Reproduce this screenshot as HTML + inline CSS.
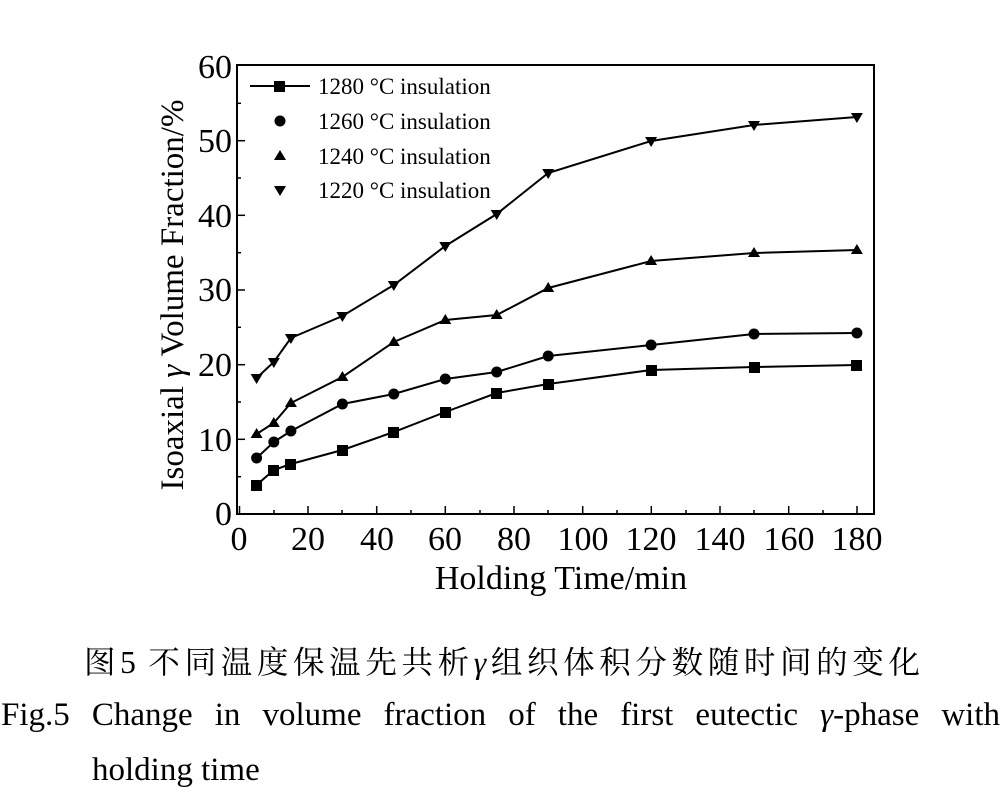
<!DOCTYPE html>
<html><head><meta charset="utf-8"><style>
body{margin:0;background:#fff;width:1002px;height:810px;overflow:hidden;position:relative}
svg{position:absolute;left:0;top:0}
text{font-family:"Liberation Serif","Noto Serif CJK SC",serif;fill:#000}
.cap{position:absolute;font-family:"Liberation Serif","Noto Serif CJK SC",serif;font-size:32px;white-space:nowrap;color:#000}
</style></head><body>
<svg width="1002" height="810" viewBox="0 0 1002 810">
<rect x="237" y="65" width="637" height="449" fill="none" stroke="#000" stroke-width="2"/>
<g stroke="#000" stroke-width="1.5">
<line x1="239.5" y1="514" x2="239.5" y2="506"/><line x1="274" y1="514" x2="274" y2="510"/>
<line x1="308" y1="514" x2="308" y2="506"/><line x1="342" y1="514" x2="342" y2="510"/>
<line x1="376.7" y1="514" x2="376.7" y2="506"/><line x1="411" y1="514" x2="411" y2="510"/>
<line x1="445.3" y1="514" x2="445.3" y2="506"/><line x1="480" y1="514" x2="480" y2="510"/>
<line x1="514" y1="514" x2="514" y2="506"/><line x1="548" y1="514" x2="548" y2="510"/>
<line x1="582.7" y1="514" x2="582.7" y2="506"/><line x1="617" y1="514" x2="617" y2="510"/>
<line x1="651.3" y1="514" x2="651.3" y2="506"/><line x1="686" y1="514" x2="686" y2="510"/>
<line x1="720" y1="514" x2="720" y2="506"/><line x1="754" y1="514" x2="754" y2="510"/>
<line x1="788.7" y1="514" x2="788.7" y2="506"/><line x1="823" y1="514" x2="823" y2="510"/>
<line x1="857" y1="514" x2="857" y2="506"/>
<line x1="237" y1="439.3" x2="245" y2="439.3"/><line x1="237" y1="364.7" x2="245" y2="364.7"/>
<line x1="237" y1="290" x2="245" y2="290"/><line x1="237" y1="215.3" x2="245" y2="215.3"/>
<line x1="237" y1="140.7" x2="245" y2="140.7"/>
<line x1="237" y1="476.7" x2="241" y2="476.7"/><line x1="237" y1="402" x2="241" y2="402"/>
<line x1="237" y1="327.3" x2="241" y2="327.3"/><line x1="237" y1="252.7" x2="241" y2="252.7"/>
<line x1="237" y1="178" x2="241" y2="178"/><line x1="237" y1="103.3" x2="241" y2="103.3"/>
</g>
<g font-size="34" text-anchor="middle">
<text x="239" y="550">0</text><text x="308" y="550">20</text><text x="377" y="550">40</text>
<text x="445" y="550">60</text><text x="514" y="550">80</text><text x="583" y="550">100</text>
<text x="651" y="550">120</text><text x="720" y="550">140</text><text x="789" y="550">160</text>
<text x="857" y="550">180</text>
</g>
<g font-size="34" text-anchor="end">
<text x="232" y="525">0</text><text x="232" y="451">10</text><text x="232" y="376">20</text>
<text x="232" y="301">30</text><text x="232" y="227">40</text><text x="232" y="152">50</text>
<text x="232" y="78">60</text>
</g>
<text x="561" y="589" font-size="34" text-anchor="middle">Holding Time/min</text>
<text transform="translate(183,295) rotate(-90)" font-size="33" text-anchor="middle">Isoaxial <tspan font-style="italic">γ</tspan> Volume Fraction/%</text>
<g fill="none" stroke="#000" stroke-width="2">
<polyline points="256.6,485 273.8,470 290.9,464 342.4,450 393.8,432 445.3,412 496.7,393 548.2,384 651.1,370 754,367 856.9,365"/>
<polyline points="256.6,458 273.8,442 290.9,431 342.4,404 393.8,394 445.3,379 496.7,372 548.2,356 651.1,345 754,334 856.9,333"/>
<polyline points="256.6,434 273.8,423 290.9,403 342.4,377 393.8,342 445.3,320 496.7,315 548.2,288 651.1,261 754,253 856.9,250"/>
<polyline points="256.6,378 273.8,362 290.9,338 342.4,316 393.8,285 445.3,246 496.7,214 548.2,173 651.1,141 754,125 856.9,117"/>
<line x1="250" y1="86" x2="310" y2="86"/>
</g>
<g fill="#000">
<rect x="251" y="480" width="11" height="11"/><rect x="268" y="465" width="11" height="11"/><rect x="285" y="459" width="11" height="11"/>
<rect x="337" y="445" width="11" height="11"/><rect x="388" y="427" width="11" height="11"/><rect x="440" y="407" width="11" height="11"/>
<rect x="491" y="388" width="11" height="11"/><rect x="543" y="379" width="11" height="11"/><rect x="646" y="365" width="11" height="11"/>
<rect x="749" y="362" width="11" height="11"/><rect x="851" y="360" width="11" height="11"/>
<rect x="274" y="81" width="11" height="11"/>
<circle cx="256.6" cy="458" r="5.5"/><circle cx="273.8" cy="442" r="5.5"/><circle cx="290.9" cy="431" r="5.5"/>
<circle cx="342.4" cy="404" r="5.5"/><circle cx="393.8" cy="394" r="5.5"/><circle cx="445.3" cy="379" r="5.5"/>
<circle cx="496.7" cy="372" r="5.5"/><circle cx="548.2" cy="356" r="5.5"/><circle cx="651.1" cy="345" r="5.5"/>
<circle cx="754" cy="334" r="5.5"/><circle cx="856.9" cy="333" r="5.5"/>
<circle cx="280" cy="121" r="5.5"/>
<path d="M256.6,428l6,10h-12z"/><path d="M273.8,417l6,10h-12z"/><path d="M290.9,397l6,10h-12z"/>
<path d="M342.4,371l6,10h-12z"/><path d="M393.8,336l6,10h-12z"/><path d="M445.3,314l6,10h-12z"/>
<path d="M496.7,309l6,10h-12z"/><path d="M548.2,282l6,10h-12z"/><path d="M651.1,255l6,10h-12z"/>
<path d="M754,247l6,10h-12z"/><path d="M856.9,244l6,10h-12z"/>
<path d="M280,150l6,10h-12z"/>
<path d="M256.6,384l6,-10h-12z"/><path d="M273.8,368l6,-10h-12z"/><path d="M290.9,344l6,-10h-12z"/>
<path d="M342.4,322l6,-10h-12z"/><path d="M393.8,291l6,-10h-12z"/><path d="M445.3,252l6,-10h-12z"/>
<path d="M496.7,220l6,-10h-12z"/><path d="M548.2,179l6,-10h-12z"/><path d="M651.1,147l6,-10h-12z"/>
<path d="M754,131l6,-10h-12z"/><path d="M856.9,123l6,-10h-12z"/>
<path d="M280,196l6,-10h-12z"/>
</g>
<g font-size="23">
<text x="318" y="94">1280 °C insulation</text>
<text x="318" y="129">1260 °C insulation</text>
<text x="318" y="164">1240 °C insulation</text>
<text x="318" y="198">1220 °C insulation</text>
</g>
</svg>
<div class="cap" style="left:84px;top:638px;width:836px;font-size:31.5px;text-align:justify;text-align-last:justify">图5 不同温度保温先共析<i>γ</i>组织体积分数随时间的变化</div>
<div class="cap" style="left:1px;top:697px;width:999px;font-size:33px;text-align:justify;text-align-last:justify;white-space:normal">Fig.5 Change in volume fraction of the first eutectic <i>γ</i>-phase with</div>
<div class="cap" style="left:92px;top:752px;font-size:33px">holding time</div>
</body></html>
